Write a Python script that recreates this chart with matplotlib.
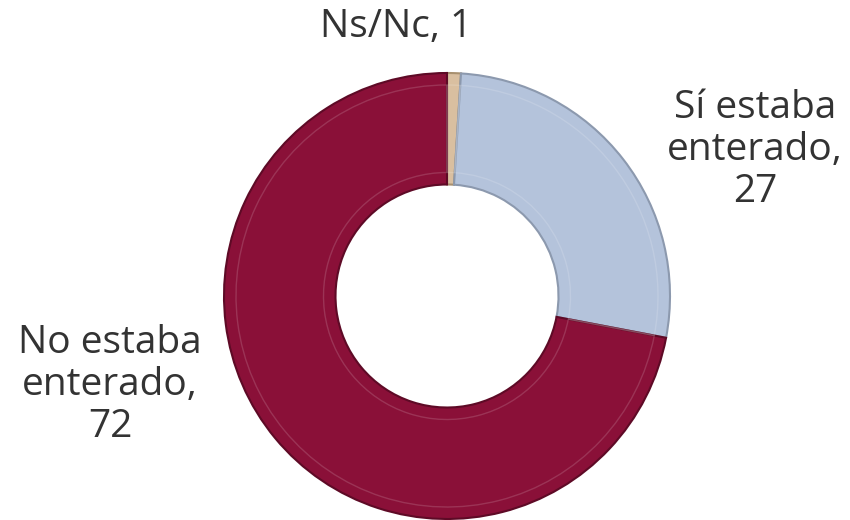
import matplotlib.pyplot as plt

# -----------------------------
# Data (clockwise from the top)
# -----------------------------
labels = ["Ns/Nc, 1", "Sí estaba\nenterado,\n27", "No estaba\nenterado,\n72"]
values = [1, 27, 72]
colors = ["#D9BFA0", "#B4C3DB", "#8A1038"]
edge_colors = ["#A8906F", "#8C99AE", "#5E0A26"]

# label positions in pixel coordinates (x, y from bottom)
label_pos = [(396, 493), (755, 370), (110, 135)]

fig = plt.figure(figsize=(8.5, 5.2), dpi=100)
ax = fig.add_axes([0, 0, 1, 1])

center = (447, 224)
radius = 223

wedges, _ = ax.pie(values, colors=colors, startangle=90, counterclock=False,
                   center=center, radius=radius, frame=True,
                   wedgeprops=dict(width=radius * 0.5, linewidth=1.5))
for w, ec in zip(wedges, edge_colors):
    w.set_edgecolor(ec)

# soft highlight band to hint at the bevel
ax.pie(values, colors=["none"] * 3, startangle=90, counterclock=False,
       center=center, radius=radius - 12, frame=True,
       wedgeprops=dict(width=radius * 0.5 - 24, linewidth=1.0,
                       edgecolor="white", alpha=0.15))

ax.set_xlim(0, 850)
ax.set_ylim(0, 520)
ax.set_aspect("equal")
ax.axis("off")

for lab, (x, y) in zip(labels, label_pos):
    ax.text(x, y, lab, ha="center", va="center", fontsize=28,
            color="#333333", family="Open Sans", linespacing=1.15)

fig.savefig("out.png", dpi=100)
